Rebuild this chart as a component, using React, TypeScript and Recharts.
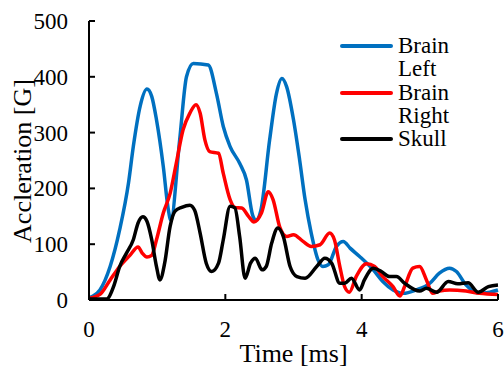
import React from 'react';
import { LineChart, Line, XAxis, YAxis, Legend } from 'recharts';

const leftTimes = [0, 0.06, 0.16, 0.31, 0.45, 0.58, 0.65, 0.75, 0.85, 0.92, 0.99, 1.09, 1.16, 1.2, 1.33, 1.43, 1.53, 1.75, 1.87, 1.97, 2.07, 2.21, 2.31, 2.4, 2.45, 2.52, 2.65, 2.75, 2.83, 2.9, 3.0, 3.09, 3.17, 3.26, 3.36, 3.43, 3.51, 3.63, 3.73, 3.83, 3.97, 4.17, 4.31, 4.46, 4.61, 4.8, 5.0, 5.14, 5.29, 5.39, 5.53, 5.73, 5.88, 6.0];
const leftValues = [4, 7, 18, 60, 126, 210, 275, 347, 378, 365, 323, 239, 165, 143, 287, 400, 424, 421, 370, 311, 275, 245, 215, 152, 143, 160, 287, 370, 397, 382, 323, 251, 180, 120, 72, 60, 63, 96, 105, 93, 78, 54, 33, 18, 12, 18, 30, 48, 57, 51, 27, 12, 14, 18];

const rightTimes = [0, 0.16, 0.31, 0.45, 0.6, 0.72, 0.78, 0.85, 0.92, 0.99, 1.09, 1.19, 1.28, 1.38, 1.48, 1.57, 1.63, 1.7, 1.77, 1.9, 1.97, 2.07, 2.14, 2.24, 2.34, 2.42, 2.53, 2.63, 2.7, 2.8, 2.9, 3.0, 3.14, 3.26, 3.39, 3.53, 3.6, 3.68, 3.75, 3.82, 3.92, 4.07, 4.19, 4.31, 4.46, 4.56, 4.63, 4.75, 4.85, 4.95, 5.04, 5.14, 5.29, 5.53, 5.73, 6.0];
const rightValues = [3, 10, 36, 60, 80, 95, 84, 77, 80, 108, 156, 191, 245, 305, 335, 350, 335, 287, 266, 263, 227, 180, 166, 165, 150, 140, 156, 194, 180, 130, 114, 117, 105, 96, 99, 120, 108, 60, 24, 14, 42, 65, 60, 42, 24, 7, 24, 57, 60, 36, 12, 16, 18, 16, 12, 10];

const skullTimes = [0, 0.26, 0.36, 0.45, 0.55, 0.65, 0.72, 0.79, 0.85, 0.92, 0.99, 1.04, 1.11, 1.19, 1.26, 1.36, 1.48, 1.55, 1.63, 1.72, 1.8, 1.9, 1.97, 2.07, 2.14, 2.21, 2.29, 2.37, 2.44, 2.54, 2.6, 2.68, 2.77, 2.85, 2.95, 3.05, 3.17, 3.34, 3.46, 3.56, 3.68, 3.75, 3.85, 3.97, 4.04, 4.17, 4.29, 4.41, 4.51, 4.63, 4.85, 4.95, 5.1, 5.27, 5.41, 5.56, 5.71, 5.86, 6.0];
const skullValues = [2, 2, 24, 60, 84, 108, 138, 149, 141, 108, 60, 36, 66, 132, 159, 166, 170, 161, 120, 66, 51, 66, 108, 168, 165, 114, 39, 66, 75, 54, 60, 102, 129, 114, 60, 42, 39, 60, 75, 66, 30, 30, 39, 18, 36, 57, 51, 42, 42, 30, 16, 21, 14, 33, 29, 31, 14, 24, 27];

const seriesNames = ['Brain Left', 'Brain Right', 'Skull'];
const seriesColors = ['#0070C0', '#FF0000', '#000000'];
const xTicks = [0, 2, 4, 6];
const yTicks = [0, 100, 200, 300, 400, 500];

const toData = (ts: number[], vs: number[]) => ts.map((t, i) => ({ t, v: vs[i] }));
const leftData = toData(leftTimes, leftValues);
const rightData = toData(rightTimes, rightValues);
const skullData = toData(skullTimes, skullValues);
const seriesData = [leftData, rightData, skullData];

const FONT = 'Liberation Serif, Times New Roman, serif';
const textStyle = { fontFamily: FONT };

const XTick = (props: any) => {
  const { x, y, payload } = props;
  return (
    <g>
      <line x1={x} y1={y} x2={x} y2={y - 6} stroke="#000" strokeWidth={2} />
      <text x={x} y={y + 37} textAnchor="middle" fontSize={23} style={textStyle} fill="#000">
        {payload.value}
      </text>
    </g>
  );
};

const YTick = (props: any) => {
  const { x, y, payload } = props;
  return (
    <g>
      <line x1={x} y1={y} x2={x + 6} y2={y} stroke="#000" strokeWidth={2} />
      <text x={x - 21} y={y + 8} textAnchor="end" fontSize={23} style={textStyle} fill="#000">
        {payload.value}
      </text>
    </g>
  );
};

const LegendContent = (props: any) => {
  const items = (props.payload || []) as any[];
  return (
    <div style={{ fontFamily: FONT, fontSize: 23, lineHeight: '23.3px', color: '#000' }}>
      {items.map((it: any) => (
        <div key={it.value} style={{ display: 'flex', alignItems: 'flex-start' }}>
          <svg width={53} height={24} style={{ flex: '0 0 auto', marginRight: 5 }}>
            <line x1={2} y1={12} x2={51} y2={12} stroke={it.color} strokeWidth={4} strokeLinecap="round" />
          </svg>
          <div style={{ width: 62 }}>{it.value}</div>
        </div>
      ))}
    </div>
  );
};

export default function App() {
  return (
    <div style={{ position: 'absolute', left: 0, top: 0, width: 504, height: 369, background: '#fff' }}>
      <LineChart width={504} height={369} margin={{ top: 21, right: 6, bottom: 39, left: 29 }}>
        <XAxis
          dataKey="t"
          type="number"
          domain={[0, 6]}
          ticks={xTicks}
          allowDuplicatedCategory={false}
          height={30}
          tickSize={0}
          tickMargin={0}
          tick={<XTick />}
          tickLine={false}
          axisLine={{ stroke: '#000', strokeWidth: 2 }}
          label={(p: any) => {
            const vb = p.viewBox || {};
            return (
              <text x={vb.x + vb.width / 2} y={vb.y + 62} textAnchor="middle" fontSize={26} style={textStyle} fill="#000">
                Time [ms]
              </text>
            );
          }}
        />
        <XAxis xAxisId="top" orientation="top" dataKey="t" type="number" domain={[0, 6]} height={0} tick={false} tickLine={false} axisLine={{ stroke: '#000', strokeWidth: 2 }} />
        <YAxis
          type="number"
          domain={[0, 500]}
          ticks={yTicks}
          width={60}
          tickSize={0}
          tickMargin={0}
          tick={<YTick />}
          tickLine={false}
          axisLine={{ stroke: '#000', strokeWidth: 2 }}
          label={(p: any) => {
            const vb = p.viewBox || {};
            const cx = 30.5;
            const cy = vb.y + vb.height / 2 + 0.5;
            return (
              <text x={cx} y={cy} textAnchor="middle" fontSize={26} style={textStyle} fill="#000" transform={`rotate(-90, ${cx}, ${cy})`}>
                Accleration [G]
              </text>
            );
          }}
        />
        <YAxis yAxisId="right" orientation="right" domain={[0, 500]} width={0} tick={false} tickLine={false} axisLine={{ stroke: '#000', strokeWidth: 2 }} />
        <Legend
          layout="horizontal"
          verticalAlign="middle"
          align="center"
          content={<LegendContent />}
          wrapperStyle={{ position: 'absolute', left: 340, top: 34, width: 130, height: 'auto' }}
        />
        {seriesNames.map((name, i) => (
          <Line
            key={name}
            data={seriesData[i]}
            dataKey="v"
            name={name}
            type="monotone"
            stroke={seriesColors[i]}
            strokeWidth={3.5}
            dot={false}
            activeDot={false}
            isAnimationActive={false}
          />
        ))}
      </LineChart>
    </div>
  );
}
